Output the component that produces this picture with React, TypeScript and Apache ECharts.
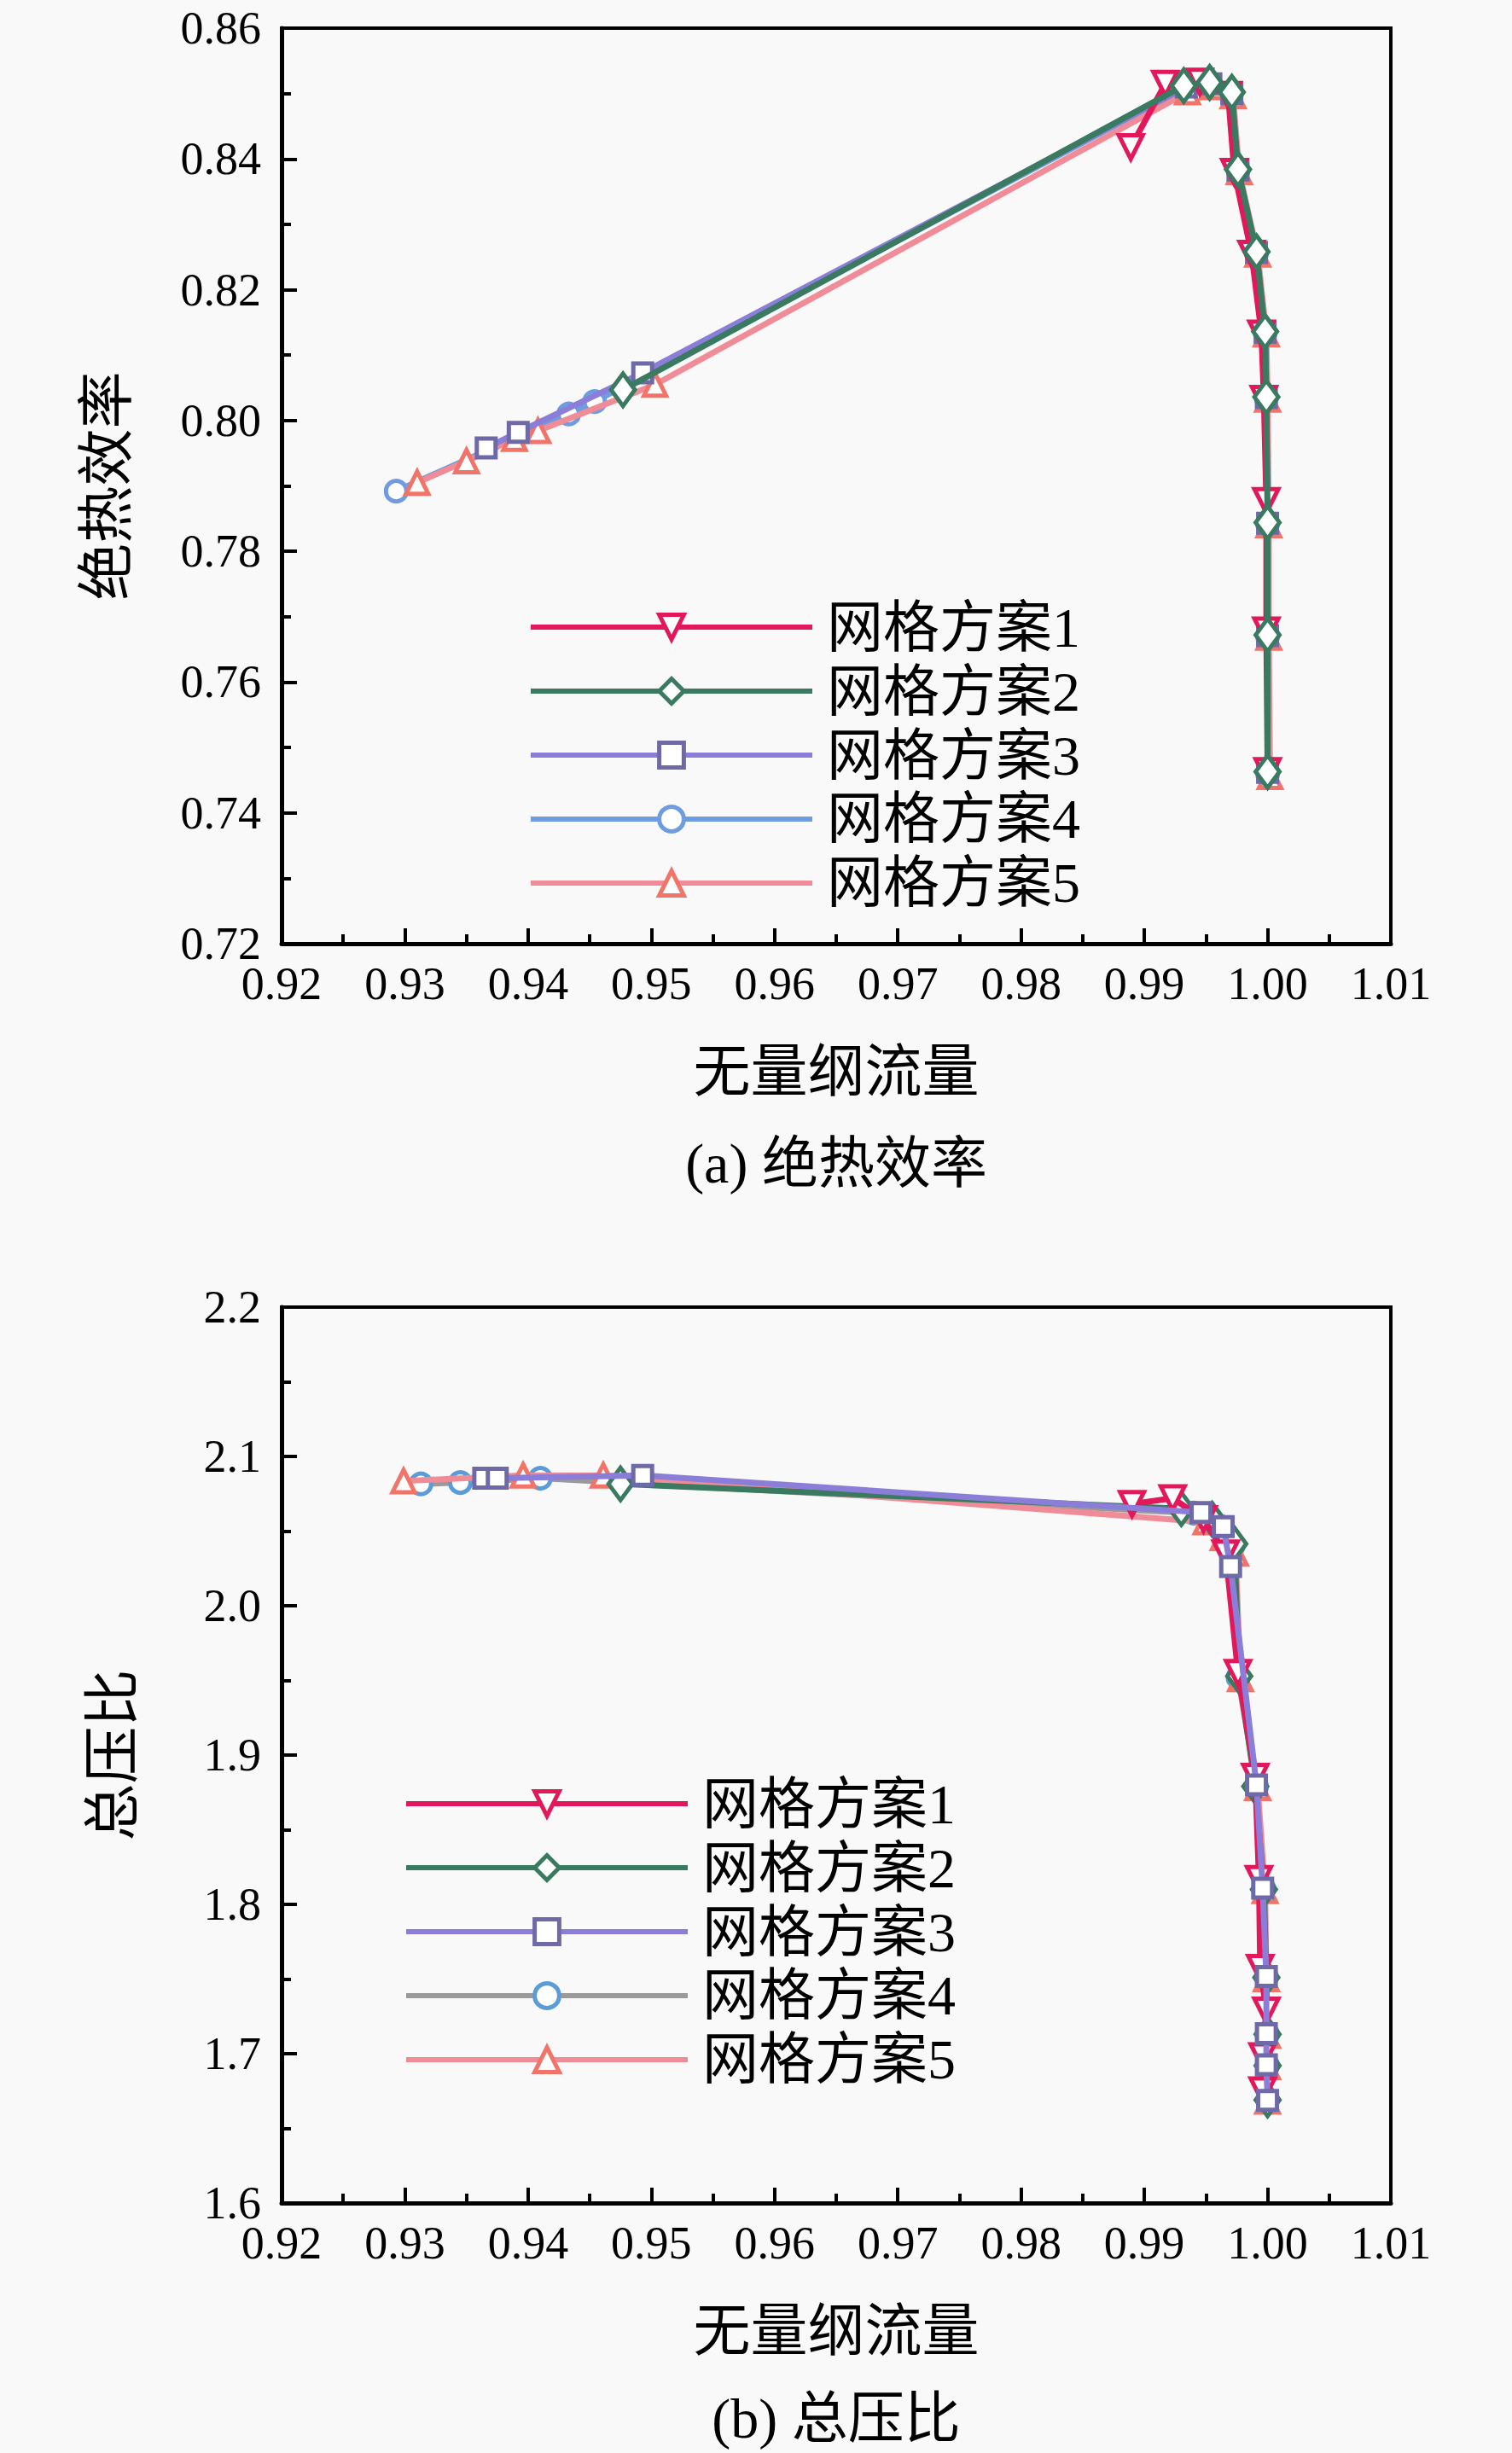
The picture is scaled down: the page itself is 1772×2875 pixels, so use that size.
import React, { useEffect, useRef } from "react";
import * as echarts from "echarts";

// ---------------- data ----------------
const SERIES_NAMES = ["网格方案1", "网格方案2", "网格方案3", "网格方案4", "网格方案5"];

const X_MIN = 0.92;
const X_MAX = 1.01;
const X_STEP = 0.01;
const EFF_MIN = 0.72;
const EFF_MAX = 0.86;
const EFF_STEP = 0.02;
const PR_MIN = 1.6;
const PR_MAX = 2.2;
const PR_STEP = 0.1;

// (a) adiabatic efficiency
const effX1 = [0.9889, 0.9917, 0.9945, 0.9968, 0.9973, 0.9987, 0.9995, 0.9997, 0.9999, 0.9999, 1.0];
const effY1 = [0.8418, 0.8515, 0.8518, 0.8498, 0.838, 0.8255, 0.8133, 0.8033, 0.7877, 0.7679, 0.7464];

const effX2 = [0.9477, 0.9932, 0.9953, 0.9971, 0.9976, 0.9991, 0.9998, 0.9999, 1.0, 1.0, 1.0];
const effY2 = [0.8047, 0.8512, 0.8517, 0.8502, 0.8384, 0.8258, 0.8136, 0.8036, 0.7844, 0.7672, 0.7463];

const effX3 = [0.9366, 0.9392, 0.9493, 0.9934, 0.9954, 0.9971, 0.9976, 0.9991, 0.9998, 0.9999, 1.0, 1.0, 1.0];
const effY3 = [0.7958, 0.7982, 0.8073, 0.851, 0.8515, 0.85, 0.8383, 0.8257, 0.8135, 0.8035, 0.7843, 0.7671, 0.7462];

const effX4 = [0.9293, 0.9433, 0.9454, 0.9933, 0.9953, 0.997, 0.9976, 0.9991, 0.9998, 0.9999, 1.0, 1.0, 1.0];
const effY4 = [0.7892, 0.801, 0.8029, 0.8508, 0.8514, 0.8499, 0.8382, 0.8256, 0.8134, 0.8034, 0.7842, 0.767, 0.746];

const effX5 = [0.931, 0.935, 0.9389, 0.9408, 0.9503, 0.9935, 0.9955, 0.9972, 0.9977, 0.9992, 0.9999, 1.0, 1.0001, 1.0001, 1.0002];
const effY5 = [0.7905, 0.7938, 0.7972, 0.7984, 0.8055, 0.8502, 0.851, 0.8496, 0.838, 0.8254, 0.8132, 0.8032, 0.784, 0.7668, 0.7455];

// (b) total pressure ratio
const prX1 = [0.989, 0.9923, 0.9948, 0.9966, 0.9976, 0.999, 0.9993, 0.9994, 0.9999, 0.9996, 0.9996];
const prY1 = [2.0682, 2.072, 2.058, 2.035, 1.955, 1.8854, 1.817, 1.7574, 1.7288, 1.6983, 1.6754];

const prX2 = [0.9475, 0.993, 0.9955, 0.9973, 0.9977, 0.999, 0.9997, 0.9999, 1.0, 1.0, 1.0];
const prY2 = [2.0816, 2.065, 2.058, 2.0415, 1.9529, 1.879, 1.81, 1.751, 1.713, 1.692, 1.669];

const prX3 = [0.9364, 0.9375, 0.9493, 0.9946, 0.9964, 0.997, 0.9991, 0.9996, 0.9999, 0.9999, 0.9999, 1.0];
const prY3 = [2.0854, 2.0854, 2.0873, 2.0625, 2.053, 2.0263, 1.88, 1.8108, 1.7517, 1.7135, 1.6926, 1.6687];

const prX4 = [0.9313, 0.9345, 0.941, 0.994, 0.9962, 0.9972, 0.9976, 0.9991, 0.9997, 0.9999, 1.0, 1.0, 1.0];
const prY4 = [2.0816, 2.0825, 2.0854, 2.062, 2.053, 2.04, 1.952, 1.879, 1.8105, 1.7515, 1.713, 1.692, 1.669];

const prX5 = [0.9299, 0.9396, 0.9461, 0.995, 0.9964, 0.9974, 0.9978, 0.9992, 0.9998, 0.9999, 1.0, 1.0, 1.0];
const prY5 = [2.0835, 2.0873, 2.0873, 2.056, 2.0455, 2.035, 1.951, 1.878, 1.809, 1.75, 1.712, 1.691, 1.668];

// ---------------- styles ----------------
const FONT = "'Liberation Serif', 'Noto Sans CJK SC', serif";
const RED = "#E3185A";
const GREEN = "#3A7A60";
const PURPLE = "#8A7ED8";
const BLUE = "#6F9CE0";
const GREY = "#9A9A9A";
const PINK = "#F08C98";
const SALMON = "#F27468";

function pairs(xs: number[], ys: number[]) {
  return xs.map((x, i) => [x, ys[i]]);
}

function mk(
  name: string,
  xs: number[],
  ys: number[],
  lineColor: string,
  markColor: string,
  symbol: string,
  size: any,
  rotate: number,
  z: number
) {
  return {
    type: "line",
    name,
    data: pairs(xs, ys),
    symbol,
    symbolSize: size,
    symbolRotate: rotate,
    showAllSymbol: true,
    z,
    lineStyle: { color: lineColor, width: 7 },
    itemStyle: { color: "#ffffff", borderColor: markColor, borderWidth: 5 },
    emphasis: { disabled: true },
  };
}

function axisCommon() {
  return {
    axisLine: { show: true, onZero: false, lineStyle: { color: "#000", width: 5 } },
    axisTick: { show: true, inside: true, length: 18, lineStyle: { color: "#000", width: 4 } },
    minorTick: { show: true, splitNumber: 2, length: 11, lineStyle: { color: "#000", width: 4 } },
    splitLine: { show: false },
    minorSplitLine: { show: false },
  };
}

function buildOption(kind: "a" | "b") {
  const isA = kind === "a";
  const gridTop = isA ? 33 : 92;
  const gridH = isA ? 1073 : 1050;
  const series = isA
    ? [
        mk(SERIES_NAMES[3], effX4, effY4, BLUE, BLUE, "circle", 24, 0, 2),
        mk(SERIES_NAMES[4], effX5, effY5, PINK, SALMON, "triangle", 26, 0, 3),
        mk(SERIES_NAMES[2], effX3, effY3, PURPLE, "#6E6AA8", "rect", 22, 0, 4),
        mk(SERIES_NAMES[0], effX1, effY1, RED, RED, "triangle", 28, 180, 5),
        mk(SERIES_NAMES[1], effX2, effY2, GREEN, GREEN, "diamond", [28, 38], 0, 6),
      ]
    : [
        mk(SERIES_NAMES[3], prX4, prY4, GREY, "#5B9BD8", "circle", 24, 0, 2),
        mk(SERIES_NAMES[4], prX5, prY5, PINK, SALMON, "triangle", 26, 0, 3),
        mk(SERIES_NAMES[1], prX2, prY2, GREEN, GREEN, "diamond", [28, 38], 0, 4),
        mk(SERIES_NAMES[0], prX1, prY1, RED, RED, "triangle", 28, 180, 5),
        mk(SERIES_NAMES[2], prX3, prY3, PURPLE, "#6E6AA8", "rect", 22, 0, 6),
      ];
  const xName = "无量纲流量";
  const yName = isA ? "绝热效率" : "总压比";
  const caption = isA ? "(a) 绝热效率" : "(b) 总压比";
  return {
    animation: false,
    backgroundColor: "transparent",
    grid: {
      left: 330,
      top: gridTop,
      width: 1300,
      height: gridH,
      show: true,
      borderColor: "#000",
      borderWidth: 4,
      containLabel: false,
    },
    xAxis: {
      type: "value",
      min: X_MIN,
      max: X_MAX,
      interval: X_STEP,
      ...axisCommon(),
      axisLabel: {
        formatter: (v: number) => v.toFixed(2),
        fontSize: 54,
        fontFamily: FONT,
        color: "#000",
        margin: 20,
      },
      name: xName,
      nameLocation: "middle",
      nameGap: 116,
      nameTextStyle: { fontSize: 67, fontFamily: FONT, color: "#000" },
    },
    yAxis: {
      type: "value",
      min: isA ? EFF_MIN : PR_MIN,
      max: isA ? EFF_MAX : PR_MAX,
      interval: isA ? EFF_STEP : PR_STEP,
      ...axisCommon(),
      axisLabel: {
        formatter: (v: number) => (isA ? v.toFixed(2) : v.toFixed(1)),
        fontSize: 54,
        fontFamily: FONT,
        color: "#000",
        margin: 24,
      },
      name: yName,
      nameLocation: "middle",
      nameRotate: 90,
      nameGap: isA ? 172 : 165,
      nameTextStyle: { fontSize: 67, fontFamily: FONT, color: "#000" },
    },
    legend: {
      show: true,
      orient: "vertical",
      left: isA ? 614 : 468,
      top: isA ? 697 : 636,
      itemWidth: 330,
      itemHeight: 36,
      itemGap: 9,
      selectedMode: false,
      data: SERIES_NAMES,
      lineStyle: { width: 6 },
      itemStyle: { borderWidth: 5 },
      textStyle: {
        fontSize: 66,
        fontFamily: FONT,
        color: "#000",
        padding: [0, 0, 0, 12],
      },
    },
    graphic: [
      {
        type: "text",
        x: 980,
        y: isA ? 1363 : 1394,
        style: {
          text: caption,
          font: `66px ${FONT}`,
          fill: "#000",
          textAlign: "center",
          textVerticalAlign: "middle",
        },
      },
    ],
    series,
  };
}

function Chart({ kind, height }: { kind: "a" | "b"; height: number }) {
  const ref = useRef<HTMLDivElement>(null);
  useEffect(() => {
    if (!ref.current) return;
    const chart = echarts.init(ref.current, undefined, { renderer: "svg" });
    chart.setOption(buildOption(kind) as any);
    return () => chart.dispose();
  }, [kind]);
  return <div ref={ref} style={{ width: 1772, height }} />;
}

export default function App() {
  useEffect(() => {
    document.body.style.margin = "0";
    document.body.style.background = "#f9f9f9";
  }, []);
  return (
    <div style={{ width: 1772, height: 2875, background: "#f9f9f9" }}>
      <Chart kind="a" height={1440} />
      <Chart kind="b" height={1435} />
    </div>
  );
}
